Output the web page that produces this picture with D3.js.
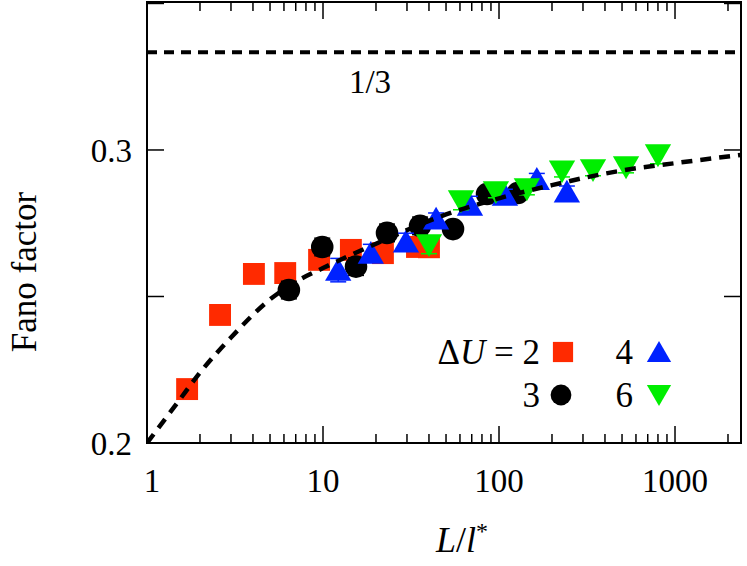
<!DOCTYPE html>
<html>
<head>
<meta charset="utf-8">
<script src="https://cdn.jsdelivr.net/npm/d3@7"></script>
<style>
body { margin: 0; background: #fff; }
text { font-family: "Liberation Serif", "DejaVu Serif", serif; }
</style>
</head>
<body>
<svg id="chart" width="747" height="566"></svg>
<script>
// Data: L/l* and Fano factor, with error bar half-widths
const sqL = [1.69, 2.6, 4.05, 6.1, 9.5, 14.4, 21.9, 34.2, 40];
const sqF = [0.2184, 0.2437, 0.2577, 0.258, 0.2625, 0.2659, 0.2648, 0.2669, 0.2668];
const sqE = [0.003, 0.003, 0.002, 0.002, 0.003, 0.002, 0.002, 0.002, 0.002];

const ciL = [6.4, 9.9, 15.4, 23.1, 35.6, 54.8, 85.5, 128];
const ciF = [0.2522, 0.2669, 0.2602, 0.2717, 0.2741, 0.273, 0.285, 0.2853];
const ciE = [0.003, 0.003, 0.003, 0.003, 0.003, 0.002, 0.002, 0.002];

const upL = [12.2, 18.7, 29.6, 43.9, 68.4, 108, 164, 243];
const upF = [0.259, 0.2648, 0.2686, 0.2765, 0.2812, 0.2846, 0.29, 0.2857];
const upE = [0.004, 0.003, 0.003, 0.002, 0.003, 0.002, 0.002, 0.002];

const dnL = [40, 60.8, 96, 144, 228, 342, 527, 800];
const dnF = [0.2676, 0.2826, 0.2857, 0.2867, 0.2928, 0.2932, 0.2942, 0.2983];
const dnE = [0.003, 0.003, 0.002, 0.002, 0.002, 0.002, 0.002, 0.003];

// fit curve
const fitL = [1, 1.5, 2, 3, 5, 7, 10, 20, 50, 100, 200, 500, 1000, 2371];
const fitF = [0.200, 0.214, 0.224, 0.236, 0.249, 0.255, 0.2597, 0.268, 0.278, 0.2835, 0.288, 0.293, 0.2955, 0.2983];

const xTicks = [1, 10, 100, 1000];
const yTicks = [0.2, 0.3];

const svg = d3.select("#chart");
const mLeft = 147, mRight = 741, mTop = 2, mBottom = 443;

const x = d3.scaleLog().domain([1, 2371]).range([mLeft, mRight]);
const y = d3.scaleLinear().domain([0.2, 0.3505]).range([mBottom, mTop]);

svg.append("clipPath").attr("id", "clip")
	.append("rect").attr("x", mLeft).attr("y", mTop)
	.attr("width", mRight - mLeft).attr("height", mBottom - mTop);

// ticks (all four sides)
const minor = [];
for (let d = 1; d <= 1000; d *= 10)
	for (let k = 2; k <= 9; k++) if (d * k < 2371) minor.push(d * k);
const tk = svg.append("g").attr("stroke", "#000").attr("stroke-width", 1.5);
for (const v of minor) {
	tk.append("line").attr("x1", x(v)).attr("x2", x(v)).attr("y1", mBottom).attr("y2", mBottom - 9);
	tk.append("line").attr("x1", x(v)).attr("x2", x(v)).attr("y1", mTop).attr("y2", mTop + 9);
}
for (const v of xTicks) {
	tk.append("line").attr("x1", x(v)).attr("x2", x(v)).attr("y1", mBottom).attr("y2", mBottom - 17);
	tk.append("line").attr("x1", x(v)).attr("x2", x(v)).attr("y1", mTop).attr("y2", mTop + 17);
}
for (const v of [0.25, 0.3, 0.35]) {
	tk.append("line").attr("x1", mLeft).attr("x2", mLeft + 17).attr("y1", y(v)).attr("y2", y(v));
	tk.append("line").attr("x1", mRight).attr("x2", mRight - 17).attr("y1", y(v)).attr("y2", y(v));
}

svg.append("g").attr("font-size", 33).attr("text-anchor", "middle")
	.selectAll("text").data(xTicks).join("text")
	.attr("x", (d) => x(d) + (d === 1 ? 5 : 0)).attr("y", 492).text((d) => d);
svg.append("g").attr("font-size", 33).attr("text-anchor", "end")
	.selectAll("text").data(yTicks).join("text")
	.attr("x", 132).attr("y", (d) => y(d) + 12).text((d) => d.toFixed(1));

// 1/3 line
svg.append("line").attr("x1", mLeft).attr("x2", mRight)
	.attr("y1", y(1 / 3)).attr("y2", y(1 / 3))
	.attr("stroke", "#000").attr("stroke-width", 4).attr("stroke-dasharray", "10,7");
svg.append("text").attr("x", 370).attr("y", 93).attr("font-size", 33)
	.attr("text-anchor", "middle").text("1/3");

const gData = svg.append("g").attr("clip-path", "url(#clip)");

const series = [
	{ L: sqL, F: sqF, E: sqE, color: "#ff2a00", sym: d3.symbolSquare, size: 480, rot: 0 },
	{ L: ciL, F: ciF, E: ciE, color: "#000000", sym: d3.symbolCircle, size: 400, rot: 0 },
	{ L: upL, F: upF, E: upE, color: "#0022ff", sym: d3.symbolTriangle, size: 300, rot: 0 },
	{ L: dnL, F: dnF, E: dnE, color: "#00ee00", sym: d3.symbolTriangle, size: 300, rot: 180 },
];
const shift = (s) => (s.sym === d3.symbolTriangle ? (s.rot ? -3 : 3) : 0);

for (const s of series) {
	const pts = s.L.map((L, i) => ({ L, F: s.F[i], E: s.E[i] }));
	const g = gData.append("g");
	const eb = g.append("g").attr("stroke", s.color).attr("stroke-width", 1.5);
	for (const p of pts) {
		const cx = x(p.L);
		eb.append("line").attr("x1", cx).attr("x2", cx).attr("y1", y(p.F - p.E)).attr("y2", y(p.F + p.E));
		for (const v of [p.F - p.E, p.F + p.E])
			eb.append("line").attr("x1", cx - 8).attr("x2", cx + 8).attr("y1", y(v)).attr("y2", y(v));
	}
	g.selectAll("path").data(pts).join("path")
		.attr("d", d3.symbol(s.sym, s.size))
		.attr("fill", s.color)
		.attr("transform", (d) => `translate(${x(d.L)},${y(d.F) + shift(s)}) rotate(${s.rot})`);
}

// fit curve
gData.append("path")
	.datum(fitL.map((L, i) => [L, fitF[i]]))
	.attr("d", d3.line().x((d) => x(d[0])).y((d) => y(d[1])).curve(d3.curveMonotoneX))
	.attr("fill", "none").attr("stroke", "#000").attr("stroke-width", 4.5)
	.attr("stroke-dasharray", "11,8");

// frame
svg.append("rect").attr("x", mLeft).attr("y", mTop)
	.attr("width", mRight - mLeft).attr("height", mBottom - mTop)
	.attr("fill", "none").attr("stroke", "#000").attr("stroke-width", 2);

// axis titles
svg.append("text").attr("transform", "translate(36,272) rotate(-90)")
	.attr("font-size", 35).attr("text-anchor", "middle").text("Fano factor");
const xl = svg.append("text").attr("x", 462).attr("y", 552).attr("font-size", 36)
	.attr("text-anchor", "middle");
xl.append("tspan").attr("font-style", "italic").text("L");
xl.append("tspan").text("/");
xl.append("tspan").attr("font-style", "italic").text("l");
xl.append("tspan").attr("dy", -13).attr("font-size", 24).text("*");

// legend
const lg = svg.append("g").attr("font-size", 35);
const lt = lg.append("text").attr("x", 540).attr("y", 364).attr("text-anchor", "end");
lt.append("tspan").text("Δ");
lt.append("tspan").attr("font-style", "italic").text("U");
lt.append("tspan").text(" = 2");
lg.append("text").attr("x", 540).attr("y", 407).attr("text-anchor", "end").text("3");
lg.append("text").attr("x", 633).attr("y", 364).attr("text-anchor", "end").text("4");
lg.append("text").attr("x", 633).attr("y", 407).attr("text-anchor", "end").text("6");
const leg = [
	{ s: series[0], cx: 563, cy: 352 },
	{ s: series[1], cx: 561, cy: 395 },
	{ s: series[2], cx: 659, cy: 352 },
	{ s: series[3], cx: 659, cy: 395 },
];
for (const l of leg)
	lg.append("path").attr("d", d3.symbol(l.s.sym, l.s.size * 0.85)())
		.attr("fill", l.s.color)
		.attr("transform", `translate(${l.cx},${l.cy + shift(l.s)}) rotate(${l.s.rot})`);
</script>
</body>
</html>
